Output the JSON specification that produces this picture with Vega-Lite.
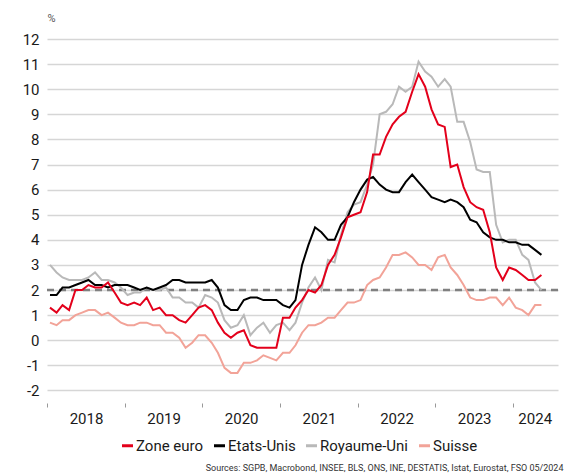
{
  "$schema": "https://vega.github.io/schema/vega-lite/v6.json",
  "width": 511,
  "height": 364,
  "autosize": "none",
  "padding": {"left": 47, "top": 39, "right": 8, "bottom": 71},
  "background": "white",
  "config": {"view": {"stroke": null}, "font": "Roboto"},
  "data": {"values": [
    {"d":"2018-01-15","Zone euro":1.3,"Etats-Unis":1.8,"Royaume-Uni":3.0,"Suisse":0.7},
    {"d":"2018-02-15","Zone euro":1.1,"Etats-Unis":1.8,"Royaume-Uni":2.7,"Suisse":0.6},
    {"d":"2018-03-15","Zone euro":1.4,"Etats-Unis":2.1,"Royaume-Uni":2.5,"Suisse":0.8},
    {"d":"2018-04-15","Zone euro":1.2,"Etats-Unis":2.1,"Royaume-Uni":2.4,"Suisse":0.8},
    {"d":"2018-05-15","Zone euro":2.0,"Etats-Unis":2.2,"Royaume-Uni":2.4,"Suisse":1.0},
    {"d":"2018-06-15","Zone euro":2.0,"Etats-Unis":2.3,"Royaume-Uni":2.4,"Suisse":1.1},
    {"d":"2018-07-15","Zone euro":2.2,"Etats-Unis":2.4,"Royaume-Uni":2.5,"Suisse":1.2},
    {"d":"2018-08-15","Zone euro":2.1,"Etats-Unis":2.2,"Royaume-Uni":2.7,"Suisse":1.2},
    {"d":"2018-09-15","Zone euro":2.1,"Etats-Unis":2.2,"Royaume-Uni":2.4,"Suisse":1.0},
    {"d":"2018-10-15","Zone euro":2.3,"Etats-Unis":2.1,"Royaume-Uni":2.4,"Suisse":1.1},
    {"d":"2018-11-15","Zone euro":1.9,"Etats-Unis":2.2,"Royaume-Uni":2.3,"Suisse":0.9},
    {"d":"2018-12-15","Zone euro":1.5,"Etats-Unis":2.2,"Royaume-Uni":2.1,"Suisse":0.7},
    {"d":"2019-01-15","Zone euro":1.4,"Etats-Unis":2.2,"Royaume-Uni":1.8,"Suisse":0.6},
    {"d":"2019-02-15","Zone euro":1.5,"Etats-Unis":2.1,"Royaume-Uni":1.9,"Suisse":0.6},
    {"d":"2019-03-15","Zone euro":1.4,"Etats-Unis":2.0,"Royaume-Uni":1.9,"Suisse":0.7},
    {"d":"2019-04-15","Zone euro":1.7,"Etats-Unis":2.1,"Royaume-Uni":2.1,"Suisse":0.7},
    {"d":"2019-05-15","Zone euro":1.2,"Etats-Unis":2.0,"Royaume-Uni":2.0,"Suisse":0.6},
    {"d":"2019-06-15","Zone euro":1.3,"Etats-Unis":2.1,"Royaume-Uni":2.0,"Suisse":0.6},
    {"d":"2019-07-15","Zone euro":1.0,"Etats-Unis":2.2,"Royaume-Uni":2.1,"Suisse":0.3},
    {"d":"2019-08-15","Zone euro":1.0,"Etats-Unis":2.4,"Royaume-Uni":1.7,"Suisse":0.3},
    {"d":"2019-09-15","Zone euro":0.8,"Etats-Unis":2.4,"Royaume-Uni":1.7,"Suisse":0.1},
    {"d":"2019-10-15","Zone euro":0.7,"Etats-Unis":2.3,"Royaume-Uni":1.5,"Suisse":-0.3},
    {"d":"2019-11-15","Zone euro":1.0,"Etats-Unis":2.3,"Royaume-Uni":1.5,"Suisse":-0.1},
    {"d":"2019-12-15","Zone euro":1.3,"Etats-Unis":2.3,"Royaume-Uni":1.3,"Suisse":0.2},
    {"d":"2020-01-15","Zone euro":1.4,"Etats-Unis":2.3,"Royaume-Uni":1.8,"Suisse":0.2},
    {"d":"2020-02-15","Zone euro":1.2,"Etats-Unis":2.4,"Royaume-Uni":1.7,"Suisse":-0.1},
    {"d":"2020-03-15","Zone euro":0.7,"Etats-Unis":2.1,"Royaume-Uni":1.5,"Suisse":-0.5},
    {"d":"2020-04-15","Zone euro":0.3,"Etats-Unis":1.4,"Royaume-Uni":0.8,"Suisse":-1.1},
    {"d":"2020-05-15","Zone euro":0.1,"Etats-Unis":1.2,"Royaume-Uni":0.5,"Suisse":-1.3},
    {"d":"2020-06-15","Zone euro":0.3,"Etats-Unis":1.2,"Royaume-Uni":0.6,"Suisse":-1.3},
    {"d":"2020-07-15","Zone euro":0.4,"Etats-Unis":1.6,"Royaume-Uni":1.0,"Suisse":-0.9},
    {"d":"2020-08-15","Zone euro":-0.2,"Etats-Unis":1.7,"Royaume-Uni":0.2,"Suisse":-0.9},
    {"d":"2020-09-15","Zone euro":-0.3,"Etats-Unis":1.7,"Royaume-Uni":0.5,"Suisse":-0.8},
    {"d":"2020-10-15","Zone euro":-0.3,"Etats-Unis":1.6,"Royaume-Uni":0.7,"Suisse":-0.6},
    {"d":"2020-11-15","Zone euro":-0.3,"Etats-Unis":1.6,"Royaume-Uni":0.3,"Suisse":-0.7},
    {"d":"2020-12-15","Zone euro":-0.3,"Etats-Unis":1.6,"Royaume-Uni":0.6,"Suisse":-0.8},
    {"d":"2021-01-15","Zone euro":0.9,"Etats-Unis":1.4,"Royaume-Uni":0.7,"Suisse":-0.5},
    {"d":"2021-02-15","Zone euro":0.9,"Etats-Unis":1.3,"Royaume-Uni":0.4,"Suisse":-0.5},
    {"d":"2021-03-15","Zone euro":1.3,"Etats-Unis":1.6,"Royaume-Uni":0.7,"Suisse":-0.2},
    {"d":"2021-04-15","Zone euro":1.6,"Etats-Unis":3.0,"Royaume-Uni":1.5,"Suisse":0.3},
    {"d":"2021-05-15","Zone euro":2.0,"Etats-Unis":3.8,"Royaume-Uni":2.1,"Suisse":0.6},
    {"d":"2021-06-15","Zone euro":1.9,"Etats-Unis":4.5,"Royaume-Uni":2.5,"Suisse":0.6},
    {"d":"2021-07-15","Zone euro":2.2,"Etats-Unis":4.3,"Royaume-Uni":2.0,"Suisse":0.7},
    {"d":"2021-08-15","Zone euro":3.0,"Etats-Unis":4.0,"Royaume-Uni":3.2,"Suisse":0.9},
    {"d":"2021-09-15","Zone euro":3.4,"Etats-Unis":4.0,"Royaume-Uni":3.1,"Suisse":0.9},
    {"d":"2021-10-15","Zone euro":4.1,"Etats-Unis":4.6,"Royaume-Uni":4.2,"Suisse":1.2},
    {"d":"2021-11-15","Zone euro":4.9,"Etats-Unis":4.9,"Royaume-Uni":5.1,"Suisse":1.5},
    {"d":"2021-12-15","Zone euro":5.0,"Etats-Unis":5.5,"Royaume-Uni":5.4,"Suisse":1.5},
    {"d":"2022-01-15","Zone euro":5.1,"Etats-Unis":6.0,"Royaume-Uni":5.5,"Suisse":1.6},
    {"d":"2022-02-15","Zone euro":5.9,"Etats-Unis":6.4,"Royaume-Uni":6.2,"Suisse":2.2},
    {"d":"2022-03-15","Zone euro":7.4,"Etats-Unis":6.5,"Royaume-Uni":7.0,"Suisse":2.4},
    {"d":"2022-04-15","Zone euro":7.4,"Etats-Unis":6.2,"Royaume-Uni":9.0,"Suisse":2.5},
    {"d":"2022-05-15","Zone euro":8.1,"Etats-Unis":6.0,"Royaume-Uni":9.1,"Suisse":2.9},
    {"d":"2022-06-15","Zone euro":8.6,"Etats-Unis":5.9,"Royaume-Uni":9.4,"Suisse":3.4},
    {"d":"2022-07-15","Zone euro":8.9,"Etats-Unis":5.9,"Royaume-Uni":10.1,"Suisse":3.4},
    {"d":"2022-08-15","Zone euro":9.1,"Etats-Unis":6.3,"Royaume-Uni":9.9,"Suisse":3.5},
    {"d":"2022-09-15","Zone euro":9.9,"Etats-Unis":6.6,"Royaume-Uni":10.1,"Suisse":3.3},
    {"d":"2022-10-15","Zone euro":10.6,"Etats-Unis":6.3,"Royaume-Uni":11.1,"Suisse":3.0},
    {"d":"2022-11-15","Zone euro":10.1,"Etats-Unis":6.0,"Royaume-Uni":10.7,"Suisse":3.0},
    {"d":"2022-12-15","Zone euro":9.2,"Etats-Unis":5.7,"Royaume-Uni":10.5,"Suisse":2.8},
    {"d":"2023-01-15","Zone euro":8.6,"Etats-Unis":5.6,"Royaume-Uni":10.1,"Suisse":3.3},
    {"d":"2023-02-15","Zone euro":8.5,"Etats-Unis":5.5,"Royaume-Uni":10.4,"Suisse":3.4},
    {"d":"2023-03-15","Zone euro":6.9,"Etats-Unis":5.6,"Royaume-Uni":10.1,"Suisse":2.9},
    {"d":"2023-04-15","Zone euro":7.0,"Etats-Unis":5.5,"Royaume-Uni":8.7,"Suisse":2.6},
    {"d":"2023-05-15","Zone euro":6.1,"Etats-Unis":5.3,"Royaume-Uni":8.7,"Suisse":2.2},
    {"d":"2023-06-15","Zone euro":5.5,"Etats-Unis":4.8,"Royaume-Uni":7.9,"Suisse":1.7},
    {"d":"2023-07-15","Zone euro":5.3,"Etats-Unis":4.7,"Royaume-Uni":6.8,"Suisse":1.6},
    {"d":"2023-08-15","Zone euro":5.2,"Etats-Unis":4.3,"Royaume-Uni":6.7,"Suisse":1.6},
    {"d":"2023-09-15","Zone euro":4.3,"Etats-Unis":4.1,"Royaume-Uni":6.7,"Suisse":1.7},
    {"d":"2023-10-15","Zone euro":2.9,"Etats-Unis":4.0,"Royaume-Uni":4.6,"Suisse":1.7},
    {"d":"2023-11-15","Zone euro":2.4,"Etats-Unis":4.0,"Royaume-Uni":3.9,"Suisse":1.4},
    {"d":"2023-12-15","Zone euro":2.9,"Etats-Unis":3.9,"Royaume-Uni":4.0,"Suisse":1.7},
    {"d":"2024-01-15","Zone euro":2.8,"Etats-Unis":3.9,"Royaume-Uni":4.0,"Suisse":1.3},
    {"d":"2024-02-15","Zone euro":2.6,"Etats-Unis":3.8,"Royaume-Uni":3.4,"Suisse":1.2},
    {"d":"2024-03-15","Zone euro":2.4,"Etats-Unis":3.8,"Royaume-Uni":3.2,"Suisse":1.0},
    {"d":"2024-04-15","Zone euro":2.4,"Etats-Unis":3.6,"Royaume-Uni":2.3,"Suisse":1.4},
    {"d":"2024-05-15","Zone euro":2.6,"Etats-Unis":3.4,"Royaume-Uni":2.0,"Suisse":1.4}
  ]},
  "layer": [
    {
      "data": {"values": [{"ref": 2}]},
      "mark": {"type": "rule", "color": "#808080", "strokeWidth": 2.5, "strokeDash": [7, 5]},
      "encoding": {"y": {
        "field": "ref", "type": "quantitative",
        "scale": {"domain": [-2.5, 12], "nice": false, "zero": false},
        "axis": {
          "values": [-2, -1, 0, 1, 2, 3, 4, 5, 6, 7, 8, 9, 10, 11, 12],
          "labelExpr": "'' + datum.value", "labelOverlap": false, "labelFlush": false,
          "title": "%", "titleAngle": 0, "titleAlign": "left", "titleBaseline": "middle",
          "titleX": 0, "titleY": -21, "titleFontSize": 11, "titleFontWeight": "normal", "titleColor": "#555555",
          "ticks": false, "tickSize": 0, "domain": false, "labelPadding": 8,
          "labelFontSize": 15, "labelColor": "#1a1a1a",
          "grid": true, "gridColor": "#d6d6d6", "gridWidth": 1.5
        }
      }}
    },
    {
      "transform": [{"fold": ["Suisse", "Royaume-Uni", "Etats-Unis", "Zone euro"], "as": ["serie", "v"]}],
      "mark": {"type": "line", "strokeWidth": 2},
      "encoding": {
        "x": {
          "field": "d", "type": "temporal",
          "scale": {"domain": [{"year": 2018, "month": 1, "date": 1}, {"year": 2024, "month": 8, "date": 1}]},
          "axis": {
            "values": [
              {"year": 2018, "month": 1, "date": 1}, {"year": 2019, "month": 1, "date": 1},
              {"year": 2020, "month": 1, "date": 1}, {"year": 2021, "month": 1, "date": 1},
              {"year": 2022, "month": 1, "date": 1}, {"year": 2023, "month": 1, "date": 1},
              {"year": 2024, "month": 1, "date": 1}
            ],
            "format": "%Y",
            "labelOffset": {"condition": {"test": "year(datum.value) == 2024", "value": 22}, "value": 39},
            "tickSize": 4, "tickColor": "#999999", "tickWidth": 1,
            "domain": false, "grid": false,
            "labelFontSize": 15, "labelColor": "#1a1a1a", "labelBaseline": "alphabetic",
            "labelPadding": 16, "labelAlign": "center", "labelFlush": false, "labelOverlap": false,
            "title": "Sources: SGPB, Macrobond, INSEE, BLS, ONS, INE, DESTATIS, Istat, Eurostat, FSO 05/2024",
            "titleX": 516, "titleY": 67, "titleAlign": "right", "titleAnchor": null,
            "titleBaseline": "alphabetic", "titleFontSize": 9, "titleFontWeight": "normal", "titleColor": "#333333"
          }
        },
        "y": {
          "field": "v", "type": "quantitative",
          "scale": {"domain": [-2.5, 12], "nice": false, "zero": false},
          "axis": {
            "values": [-2, -1, 0, 1, 2, 3, 4, 5, 6, 7, 8, 9, 10, 11, 12],
            "labelExpr": "'' + datum.value", "labelOverlap": false, "labelFlush": false,
            "title": "%", "titleAngle": 0, "titleAlign": "left", "titleBaseline": "middle",
            "titleX": 0, "titleY": -21, "titleFontSize": 11, "titleFontWeight": "normal", "titleColor": "#555555",
            "ticks": false, "tickSize": 0, "domain": false, "labelPadding": 8,
            "labelFontSize": 15, "labelColor": "#1a1a1a",
            "grid": true, "gridColor": "#d6d6d6", "gridWidth": 1.5
          }
        },
        "color": {
          "field": "serie", "type": "nominal",
          "scale": {"domain": ["Zone euro", "Etats-Unis", "Royaume-Uni", "Suisse"], "range": ["#e3001b", "#000000", "#b9b9b9", "#f2a398"]},
          "legend": {
            "title": null, "orient": "none", "legendX": 73, "legendY": 399, "direction": "horizontal",
            "symbolType": "stroke", "symbolStrokeWidth": 3, "symbolSize": 121,
            "labelFontSize": 15, "labelColor": "#1a1a1a", "labelOffset": 1, "columnPadding": 4, "padding": 0
          }
        }
      }
    }
  ]
}
